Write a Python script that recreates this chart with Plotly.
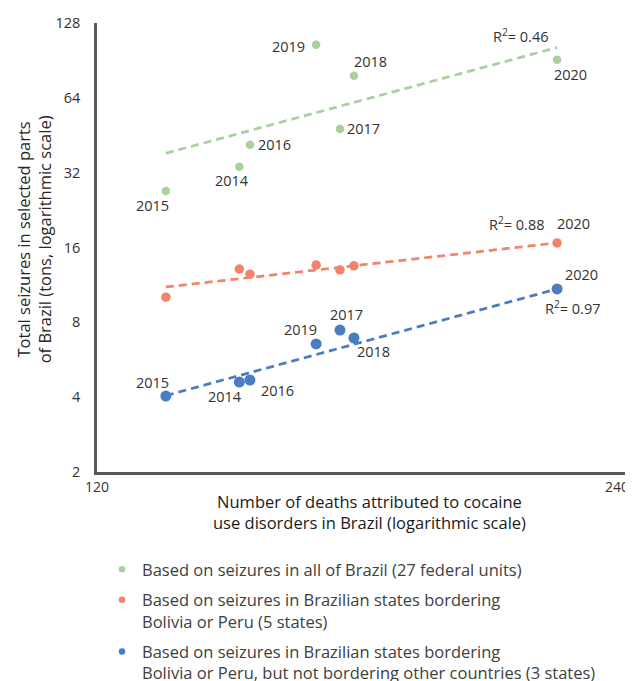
import numpy as np
import plotly.graph_objects as go

# ---------------- data ----------------
years = [2014, 2015, 2016, 2017, 2018, 2019, 2020]
deaths = [144.3, 131.2, 146.3, 164.4, 167.4, 159.4, 217.8]
seizures_all = [33.8, 27.0, 41.4, 48.0, 78.5, 104.6, 91.0]
seizures_bol_per = [13.1, 10.1, 12.5, 13.0, 13.5, 13.6, 16.7]
seizures_bol_per_only = [4.6, 4.04, 4.69, 7.45, 6.92, 6.55, 10.9]
# power trend lines as drawn in the source (value at lowest / highest death count)
trend_start = [38.3, 11.1, 4.06]
trend_end = [102.0, 16.7, 10.9]
series_names = [
    "Based on seizures in all of Brazil (27 federal units)",
    "Based on seizures in Brazilian states bordering<br>Bolivia or Peru (5 states)",
    "Based on seizures in Brazilian states bordering<br>Bolivia or Peru, but not bordering other countries (3 states)",
]
r2_labels = ["0.46", "0.88", "0.97"]
y_ticks = [2, 4, 8, 16, 32, 64, 128]
x_ticks = [120, 240]

# ---------------- styles ----------------
FONT = "Open Sans"
TXT = "#333333"
colors = ["#A9D09E", "#F4836C", "#4A7CC3"]
marker_sizes = [8.5, 9.5, 11]
series = [seizures_all, seizures_bol_per, seizures_bol_per_only]

# label offsets (px) per series: year -> (dx, dy)
label_offsets = [
    {2014: (-7, -14), 2015: (-13, -14), 2016: (25, 0), 2017: (24, 0),
     2018: (17, 14), 2019: (-28, -2), 2020: (13, -15)},
    {2020: (16, 19)},
    {2014: (-14, -14), 2015: (-13, 14), 2016: (28, -11), 2017: (7, 16),
     2018: (20, -14), 2019: (-16, 14), 2020: (24, 14)},
]
r2_offsets = [(-36, 24), (-40, 19), (16, -19)]

fig = go.Figure()
annotations = []
xe = [min(deaths), max(deaths)]
for i in range(3):
    fig.add_trace(go.Scatter(x=xe, y=[trend_start[i], trend_end[i]], mode="lines",
                             line=dict(color=colors[i], width=2.75, dash="8px,5px"),
                             showlegend=False, hoverinfo="skip"))
for i, ys in enumerate(series):
    fig.add_trace(go.Scatter(x=deaths, y=ys, mode="markers",
                             marker=dict(color=colors[i], size=marker_sizes[i]),
                             showlegend=False))
    # legend-only entry
    fig.add_trace(go.Scatter(x=[None], y=[None], mode="markers", name=series_names[i],
                             marker=dict(color=colors[i], size=6.5),
                             legendgroup=f"g{i}", showlegend=True))
    for yr, xv, yv in zip(years, deaths, ys):
        if yr in label_offsets[i]:
            dx, dy = label_offsets[i][yr]
            annotations.append(dict(x=np.log10(xv), y=np.log10(yv), xref="x", yref="y",
                                    text=str(yr), showarrow=False, xshift=dx, yshift=dy,
                                    font=dict(family=FONT, size=14.5, color=TXT)))
    i20 = years.index(2020)
    dx, dy = r2_offsets[i]
    annotations.append(dict(x=np.log10(deaths[i20]), y=np.log10(ys[i20]), xref="x", yref="y",
                            text="R<sup>2</sup>= " + r2_labels[i], showarrow=False,
                            xshift=dx, yshift=dy,
                            font=dict(family=FONT, size=14.5, color=TXT)))

# last x tick label, pulled inside the window like the source does
annotations.append(dict(x=np.log10(x_ticks[-1]), y=0, xref="x", yref="paper",
                        text=str(x_ticks[-1]), showarrow=False, xanchor="right", yanchor="top",
                        xshift=-1, yshift=-3,
                        font=dict(family=FONT, size=14, color=TXT)))

# axis titles
annotations.append(dict(xref="paper", yref="paper", x=0, y=0.517, xshift=-63.5,
                        text="Total seizures in selected parts<br>of Brazil (tons, logarithmic scale)",
                        textangle=-90, showarrow=False, xanchor="center", yanchor="middle",
                        font=dict(family=FONT, size=16.5, color="#262626")))
annotations.append(dict(xref="paper", yref="paper", x=(369 - 97) / 535, y=(472 - 511.5) / 449,
                        text="Number of deaths attributed to cocaine<br>use disorders in Brazil (logarithmic scale)",
                        showarrow=False, xanchor="center", yanchor="middle",
                        font=dict(family=FONT, size=16.5, color="#1a1a1a", weight=500)))

# page body has an 8px default margin: figure is sized so that it ends at the window edge
fig.update_layout(
    template="none",
    width=625, height=673,
    margin=dict(l=89, r=1, t=15, b=209, autoexpand=False),
    paper_bgcolor="white", plot_bgcolor="white",
    font=dict(family=FONT, size=14, color=TXT),
    annotations=annotations,
    showlegend=True,
    legend=dict(x=(102 - 97) / 535, xanchor="left", y=(472 - 552) / 449, yanchor="top",
                orientation="v", valign="top", tracegroupgap=6, traceorder="grouped",
                bgcolor="rgba(0,0,0,0)",
                font=dict(family=FONT, size=16.5, color="#404040")),
    xaxis=dict(type="log", range=[np.log10(120) - 1e-6, np.log10(240) + 1e-6],
               tickvals=x_ticks[:-1], ticktext=[str(v) for v in x_ticks[:-1]],
               showgrid=False, zeroline=False, showline=True, linecolor="#595959", linewidth=2.5,
               ticks="", tickfont=dict(family=FONT, size=14, color=TXT), automargin=False),
    yaxis=dict(type="log", range=[np.log10(2), np.log10(128)],
               tickvals=y_ticks, ticktext=[str(v) for v in y_ticks],
               showgrid=False, zeroline=False, showline=True, linecolor="#595959", linewidth=2.5,
               ticks="outside", ticklen=11, tickcolor="rgba(0,0,0,0)",
               tickfont=dict(family=FONT, size=14.5, color=TXT), automargin=False),
)

fig.write_html("out.html")
